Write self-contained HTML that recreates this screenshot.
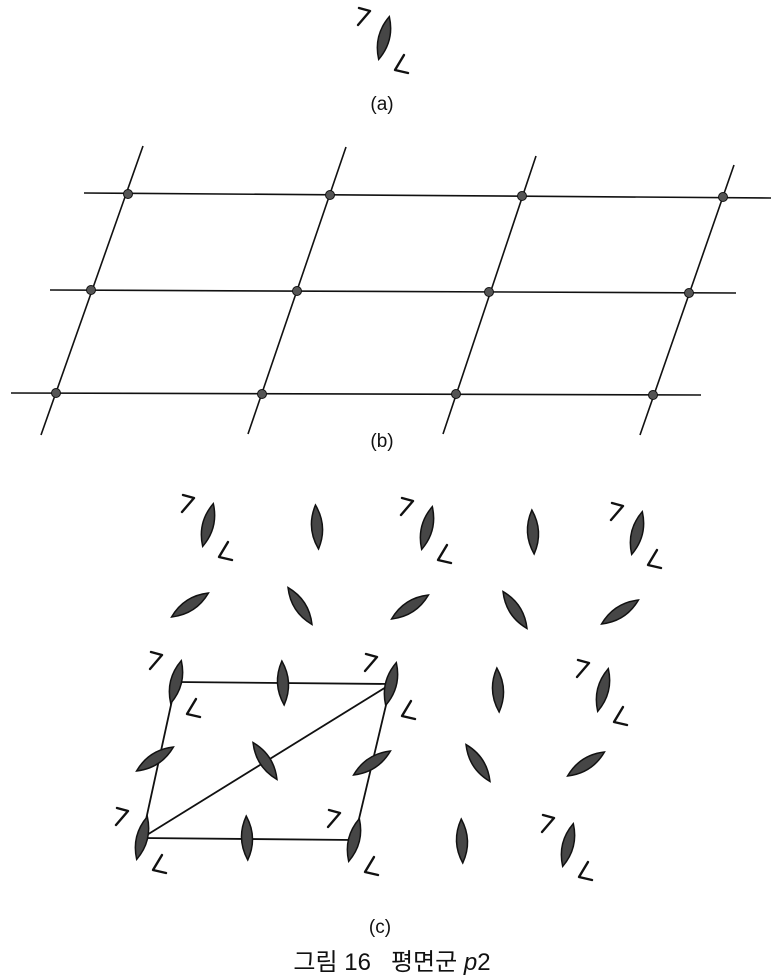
<!DOCTYPE html>
<html><head><meta charset="utf-8"><style>
html,body{margin:0;padding:0;background:#fff;}
svg{display:block}
</style></head><body>
<svg width="778" height="979" viewBox="0 0 778 979" xmlns="http://www.w3.org/2000/svg">
<defs>
<path id="L" d="M0,-22 Q11,0 0,22 Q-11,0 0,-22Z" fill="#464646" stroke="#111" stroke-width="1.5"/>
<g id="M">
<use href="#L" transform="rotate(14)"/>
<polyline points="-25,-30 -14,-27 -26,-13" fill="none" stroke="#111" stroke-width="2.4" stroke-linecap="round" stroke-linejoin="round"/>
<polyline points="20,17 11,32 24,35" fill="none" stroke="#111" stroke-width="2.4" stroke-linecap="round" stroke-linejoin="round"/>
</g>
</defs>

<!-- (a) -->
<use href="#M" transform="translate(384,38)"/>
<text x="382" y="110" font-family="Liberation Sans, sans-serif" font-size="19" text-anchor="middle" fill="#111">(a)</text>

<!-- (b) grid -->
<g stroke="#111" stroke-width="1.6" fill="none">
<line x1="84" y1="193" x2="771" y2="198"/>
<line x1="50" y1="290" x2="736" y2="293"/>
<line x1="11" y1="393" x2="701" y2="395"/>
<line x1="143" y1="146" x2="41" y2="435"/>
<line x1="346" y1="147" x2="248" y2="434"/>
<line x1="536" y1="156" x2="443" y2="434"/>
<line x1="734" y1="165" x2="640" y2="435"/>
</g>
<g fill="#555" stroke="#111" stroke-width="1">
<circle cx="128" cy="194" r="4.5"/><circle cx="330" cy="195" r="4.5"/><circle cx="522" cy="196" r="4.5"/><circle cx="723" cy="197" r="4.5"/>
<circle cx="91" cy="290" r="4.5"/><circle cx="297" cy="291" r="4.5"/><circle cx="489" cy="292" r="4.5"/><circle cx="689" cy="293" r="4.5"/>
<circle cx="56" cy="393" r="4.5"/><circle cx="262" cy="394" r="4.5"/><circle cx="456" cy="394" r="4.5"/><circle cx="653" cy="395" r="4.5"/>
</g>
<text x="382" y="447" font-family="Liberation Sans, sans-serif" font-size="19" text-anchor="middle" fill="#111">(b)</text>

<!-- (c) lines -->
<g stroke="#111" stroke-width="1.8" fill="none">
<line x1="176" y1="682" x2="391" y2="684"/>
<line x1="391" y1="684" x2="354" y2="840"/>
<line x1="354" y1="840" x2="142" y2="838"/>
<line x1="176" y1="682" x2="142" y2="838"/>
<line x1="391" y1="684" x2="142" y2="838"/>
</g>

<!-- row A -->
<use href="#M" transform="translate(208,525)"/>
<use href="#L" transform="translate(317,527) rotate(-4)"/>
<use href="#M" transform="translate(427,528)"/>
<use href="#L" transform="translate(533,532) rotate(-3)"/>
<use href="#M" transform="translate(637,533)"/>
<!-- row B -->
<use href="#L" transform="translate(190,605) rotate(57)"/>
<use href="#L" transform="translate(300,606) rotate(-33)"/>
<use href="#L" transform="translate(410,607) rotate(57)"/>
<use href="#L" transform="translate(515,610) rotate(-33)"/>
<use href="#L" transform="translate(620,612) rotate(57)"/>
<!-- row C -->
<use href="#M" transform="translate(176,682)"/>
<use href="#L" transform="translate(283,683) rotate(-3)"/>
<use href="#M" transform="translate(391,684)"/>
<use href="#L" transform="translate(498,690) rotate(-3)"/>
<use href="#M" transform="translate(603,690)"/>
<!-- row D -->
<use href="#L" transform="translate(155,759) rotate(57)"/>
<use href="#L" transform="translate(265,761) rotate(-33)"/>
<use href="#L" transform="translate(372,763) rotate(57)"/>
<use href="#L" transform="translate(478,763) rotate(-33)"/>
<use href="#L" transform="translate(586,764) rotate(57)"/>
<!-- row E -->
<use href="#M" transform="translate(142,838)"/>
<use href="#L" transform="translate(247,838) rotate(-2)"/>
<use href="#M" transform="translate(354,840)"/>
<use href="#L" transform="translate(462,841) rotate(-2)"/>
<use href="#M" transform="translate(568,845)"/>

<text x="380" y="933" font-family="Liberation Sans, sans-serif" font-size="19" text-anchor="middle" fill="#111">(c)</text>
<text x="392" y="970" font-family="Liberation Sans, 'Noto Sans CJK KR', sans-serif" font-size="24" text-anchor="middle" fill="#111" xml:space="preserve" style="white-space:pre">그림 16   평면군 <tspan font-style="italic">p</tspan>2</text>
</svg>
</body></html>
